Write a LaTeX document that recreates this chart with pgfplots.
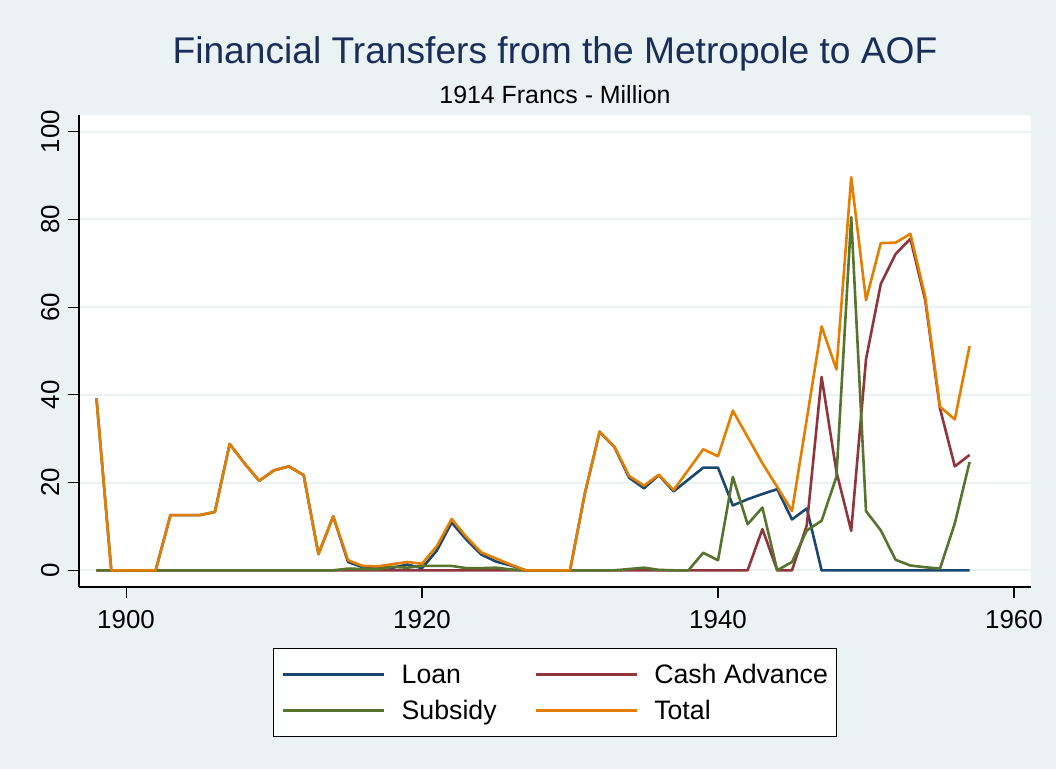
\documentclass[border=0pt]{standalone}
\usepackage{pgfplots}
\usepackage{pgfplotstable}
\pgfplotsset{compat=1.18}
\usepackage{fontspec}
\setmainfont{Liberation Sans}
\definecolor{bgc}{RGB}{234,242,243}
\definecolor{sloan}{RGB}{26,71,111}
\definecolor{scash}{RGB}{144,53,59}
\definecolor{ssub}{RGB}{85,117,47}
\definecolor{stot}{RGB}{227,126,0}
\definecolor{titc}{RGB}{26,46,90}
\pgfplotstableread{
year loan cash sub total
1898 39.2 0 0 39.2
1899 0 0 0 0
1900 0 0 0 0
1901 0 0 0 0
1902 0 0 0 0
1903 12.6 0 0 12.6
1904 12.6 0 0 12.6
1905 12.6 0 0 12.6
1906 13.3 0 0 13.3
1907 28.8 0 0 28.8
1908 24.4 0 0 24.4
1909 20.4 0 0 20.4
1910 22.8 0 0 22.8
1911 23.7 0 0 23.7
1912 21.7 0 0 21.7
1913 3.7 0 0 3.7
1914 12.3 0 0 12.3
1915 1.9 0 0.4 2.3
1916 0.7 0 0.3 1.0
1917 0.7 0 0.2 0.9
1918 0.6 0 0.8 1.4
1919 1.3 0 0.6 1.9
1920 0.5 0 1.0 1.5
1921 4.5 0 1.0 5.5
1922 10.9 0 1.0 11.7
1923 7.0 0 0.5 7.6
1924 3.6 0 0.5 4.1
1925 2.0 0 0.6 2.7
1926 1.1 0 0.2 1.3
1927 0 0 0 0
1928 0 0 0 0
1929 0 0 0 0
1930 0 0 0 0
1931 17.5 0 0 17.5
1932 31.6 0 0 31.6
1933 28.1 0 0 28.2
1934 21.1 0 0.3 21.5
1935 18.7 0 0.6 19.3
1936 21.7 0 0.1 21.8
1937 18.0 0 0 18.3
1938 20.7 0 0 22.9
1939 23.4 0 4.0 27.6
1940 23.4 0 2.3 26.0
1941 14.8 0 21.3 36.4
1942 16.2 0 10.5 30.4
1943 17.4 9.4 14.3 24.4
1944 18.5 0 0 19.0
1945 11.6 0 1.9 13.5
1946 14.1 10.3 9.1 34.5
1947 0 44.1 11.3 55.6
1948 0 22.5 21.3 45.8
1949 0 9.0 80.5 89.6
1950 0 48.1 13.5 61.6
1951 0 65.3 9.1 74.6
1952 0 72.1 2.4 74.7
1953 0 75.6 1.1 76.7
1954 0 61.6 0.7 62.4
1955 0 36.9 0.4 37.3
1956 0 23.7 10.7 34.4
1957 0 26.3 24.7 51.1
}\data
\begin{document}
\begin{tikzpicture}[x=1bp,y=1bp]
\fill[bgc] (0,0) rectangle (1056,769);
\node[anchor=base, inner sep=0pt, font=\fontsize{37.3}{44}\selectfont, text=titc] at (555,705) {Financial Transfers from the Metropole to AOF};
\node[anchor=base, inner sep=0pt, font=\fontsize{25}{30}\selectfont] at (555,665) {1914 Francs - Million};
\begin{axis}[
  at={(79bp,182bp)}, anchor=south west,
  scale only axis, width=952bp, height=472bp,
  xmin=1896.82, xmax=1961.15, ymin=-3.8, ymax=103.8,
  axis x line*=bottom, axis y line*=left,
  axis line style={black, line width=1.3bp},
  axis background/.style={fill=white},
  xtick={1900,1920,1940,1960}, ytick={0,20,...,100},
  minor tick num=0,
  ymajorgrids, grid style={bgc, line width=2bp},
  tick align=outside, major tick length=11bp,
  tick style={black, line width=1.1bp},
  /pgf/number format/assume math mode=true,
  /pgf/number format/1000 sep={},
  ticklabel style={font=\fontsize{26}{31}\selectfont},
  xticklabel style={anchor=north, inner sep=0pt},
  xticklabel shift=12bp,
  yticklabel style={rotate=90, anchor=base, inner sep=0pt},
  yticklabel shift=9bp,
  legend columns=2,
  legend cell align=left,
  legend style={at={(0.5,-0.1286)}, anchor=north, draw=black, line width=1bp, fill=white,
     font=\fontsize{26.8}{32}\selectfont, inner xsep=9bp, inner ysep=16bp,
     nodes={inner sep=0pt},
     row sep=15bp,
     /tikz/every odd column/.append style={column sep=16bp},
     /tikz/every even column/.append style={column sep=38bp}},
  legend image code/.code={\draw[#1] (0bp,0bp) -- (101bp,0bp);},
  every axis plot/.append style={line width=2.6bp, line join=round, no marks},
  clip=false,
]
\addplot[sloan] table[x=year,y=loan]{\data};
\addlegendentry{Loan}
\addplot[scash] table[x=year,y=cash]{\data};
\addlegendentry{Cash Advance}
\addplot[ssub] table[x=year,y=sub]{\data};
\addlegendentry{Subsidy}
\addplot[stot] table[x=year,y=total]{\data};
\addlegendentry{Total}
\end{axis}
\end{tikzpicture}
\end{document}
